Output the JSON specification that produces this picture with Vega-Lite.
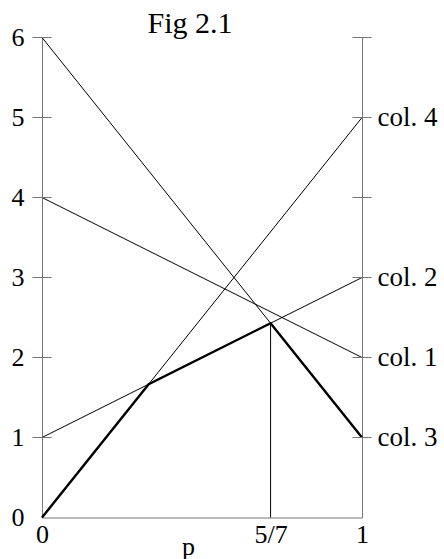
{
  "$schema": "https://vega.github.io/schema/vega-lite/v6.json",
  "width": 320,
  "height": 480,
  "autosize": {"type": "none"},
  "padding": {"left": 42, "top": 37.5, "right": 82, "bottom": 41.5},
  "background": "white",
  "config": {
    "view": {"stroke": null},
    "font": "Liberation Serif",
    "axis": {"labelFont": "Liberation Serif", "titleFont": "Liberation Serif", "labelColor": "black", "titleColor": "black", "domainColor": "#777777", "grid": false}
  },
  "title": {"text": "Fig 2.1", "font": "Liberation Serif", "fontSize": 30, "fontWeight": "normal", "color": "black", "anchor": "middle", "dx": -12, "offset": -14},
  "layer": [
    {
      "data": {"values": [
        {"col": "col. 1", "p": 0, "v": 4}, {"col": "col. 1", "p": 1, "v": 2},
        {"col": "col. 2", "p": 0, "v": 1}, {"col": "col. 2", "p": 1, "v": 3},
        {"col": "col. 3", "p": 0, "v": 6}, {"col": "col. 3", "p": 1, "v": 1},
        {"col": "col. 4", "p": 0, "v": 0}, {"col": "col. 4", "p": 1, "v": 5}
      ]},
      "mark": {"type": "line", "color": "black", "strokeWidth": 1},
      "encoding": {
        "x": {"field": "p", "type": "quantitative", "scale": {"domain": [0, 1], "nice": false},
          "axis": {"values": [0, 0.7142857, 1], "labelExpr": "datum.value == 0 ? '0' : datum.value == 1 ? '1' : '5/7'", "ticks": false, "labelFontSize": 26, "labelPadding": 4, "title": "p", "titleFontSize": 26, "titleFontWeight": "normal", "titlePadding": -14, "titleX": 146, "labelFlush": false}},
        "y": {"field": "v", "type": "quantitative", "scale": {"domain": [0, 6], "nice": false},
          "axis": {"orient": "left", "values": [0, 1, 2, 3, 4, 5, 6], "ticks": false, "labelFontSize": 26, "labelPadding": 18, "title": null, "labelFlush": false}},
        "detail": {"field": "col"}
      }
    },
    {
      "data": {"values": [
        {"p": 0, "v": 0}, {"p": 0.3333333, "v": 1.6666667}, {"p": 0.7142857, "v": 2.4285714}, {"p": 1, "v": 1}
      ]},
      "mark": {"type": "line", "color": "black", "strokeWidth": 2.4},
      "encoding": {
        "x": {"field": "p", "type": "quantitative"},
        "y": {"field": "v", "type": "quantitative",
          "axis": {"orient": "right", "values": [1, 2, 3, 4, 5, 6], "ticks": false, "labelFontSize": 27, "labelPadding": 15, "title": null, "labelFlush": false,
            "labelExpr": "datum.value == 1 ? 'col. 3' : datum.value == 2 ? 'col. 1' : datum.value == 3 ? 'col. 2' : datum.value == 5 ? 'col. 4' : ''"}}
      }
    },
    {
      "data": {"values": [{"p": 0.7142857, "v0": 0, "v1": 2.4285714}]},
      "mark": {"type": "rule", "color": "black", "strokeWidth": 1},
      "encoding": {
        "x": {"field": "p", "type": "quantitative"},
        "y": {"field": "v0", "type": "quantitative", "axis": null},
        "y2": {"field": "v1"}
      }
    },
    {
      "data": {"values": [
        {"p": 0, "v": 1}, {"p": 0, "v": 2}, {"p": 0, "v": 3}, {"p": 0, "v": 4}, {"p": 0, "v": 5}, {"p": 0, "v": 6},
        {"p": 1, "v": 1}, {"p": 1, "v": 2}, {"p": 1, "v": 3}, {"p": 1, "v": 4}, {"p": 1, "v": 5}, {"p": 1, "v": 6}
      ]},
      "mark": {"type": "tick", "orient": "horizontal", "color": "#777777", "size": 19, "thickness": 1, "opacity": 1},
      "encoding": {
        "x": {"field": "p", "type": "quantitative"},
        "y": {"field": "v", "type": "quantitative", "axis": null}
      }
    }
  ],
  "resolve": {"axis": {"y": "independent"}}
}
